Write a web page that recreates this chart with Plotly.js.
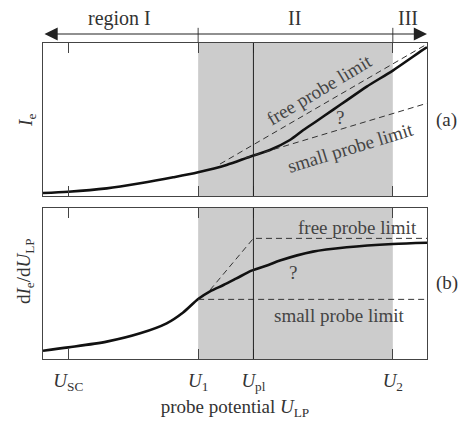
<!DOCTYPE html>
<html>
<head>
<meta charset="utf-8">
<script src="https://cdn.plot.ly/plotly-3.0.1.min.js"></script>
<style>html,body{margin:0;padding:0;background:#fff;}#chart{width:462px;height:428px;}</style>
</head>
<body>
<div id="chart"></div>
<script>
// potentials (abstract units along the probe-potential axis)
const U_SC = 0.66, U_1 = 4.04, U_pl = 5.48, U_2 = 9.11;
const tickVals = [U_SC, U_1, U_pl, U_2];
const tickLabels = ['<i>U</i><sub>SC</sub>', '<i>U</i><sub>1</sub>', '<i>U</i><sub>pl</sub>', '<i>U</i><sub>2</sub>'];

// panel (a): electron current
const xIe = [0, 0.66, 1.66, 2.53, 3.39, 4.04, 4.78, 5.39, 5.91, 6.43, 6.78, 7.13, 7.56, 7.91, 8.43, 9.11, 9.95, 10];
const yIe = [0.020, 0.028, 0.050, 0.083, 0.122, 0.155, 0.203, 0.257, 0.301, 0.366, 0.431, 0.490, 0.565, 0.625, 0.715, 0.820, 0.965, 0.972];
const xFreeA = [4.61, 10], yFreeA = [0.209, 0.993];
const xSmallA = [5.26, 10], ySmallA = [0.248, 0.606];

// panel (b): derivative dIe/dU
const xdI = [0, 0.66, 1.66, 2.53, 3.22, 3.65, 4.04, 4.35, 4.70, 5.04, 5.43, 5.87, 6.17, 7.03, 7.91, 9.11, 10];
const ydI = [0.055, 0.077, 0.115, 0.170, 0.236, 0.308, 0.397, 0.448, 0.490, 0.534, 0.585, 0.623, 0.652, 0.711, 0.740, 0.762, 0.770];
const xFreeB = [4.35, 5.48, 10], yFreeB = [0.457, 0.799, 0.799];
const xSmallB = [4.04, 10], ySmallB = [0.395, 0.395];

const serif = "'Liberation Serif', 'DejaVu Serif', serif";
const txt = '#333';
const curve = {color: '#111', width: 2.6, shape: 'spline', smoothing: 0.8};
const dash = {color: '#333', width: 1, dash: '6px,4px'};

const traces = [
  {x: xIe, y: yIe, xaxis: 'x', yaxis: 'y', mode: 'lines', line: curve, hoverinfo: 'skip'},
  {x: xFreeA, y: yFreeA, xaxis: 'x', yaxis: 'y', mode: 'lines', line: dash, hoverinfo: 'skip'},
  {x: xSmallA, y: ySmallA, xaxis: 'x', yaxis: 'y', mode: 'lines', line: dash, hoverinfo: 'skip'},
  {x: xdI, y: ydI, xaxis: 'x2', yaxis: 'y2', mode: 'lines', line: curve, hoverinfo: 'skip'},
  {x: xFreeB, y: yFreeB, xaxis: 'x2', yaxis: 'y2', mode: 'lines', line: dash, hoverinfo: 'skip'},
  {x: xSmallB, y: ySmallB, xaxis: 'x2', yaxis: 'y2', mode: 'lines', line: dash, hoverinfo: 'skip'}
];

const axCommon = {range: [0, 10], showgrid: false, zeroline: false, showline: true, linecolor: '#444', linewidth: 1,
  mirror: 'ticks', ticks: 'inside', ticklen: 10, tickcolor: '#444', tickvals: tickVals};
const yCommon = {range: [0, 1], showgrid: false, zeroline: false, showline: true, linecolor: '#444', linewidth: 1,
  mirror: true, ticks: '', showticklabels: false, fixedrange: true};

function note(o) {
  return Object.assign({showarrow: false, xanchor: 'center', yanchor: 'middle'}, o);
}

const layout = {
  width: 462, height: 428,
  margin: {l: 43, r: 35, t: 43, b: 69},
  paper_bgcolor: '#fff', plot_bgcolor: '#fff',
  showlegend: false,
  font: {family: serif, size: 19, color: txt},
  xaxis: Object.assign({}, axCommon, {anchor: 'y', showticklabels: false}),
  yaxis: Object.assign({}, yCommon, {domain: [0.5158, 1], anchor: 'x'}),
  xaxis2: Object.assign({}, axCommon, {anchor: 'y2', ticktext: tickLabels, showticklabels: true,
    ticklabelstandoff: 4,
    tickfont: {family: serif, size: 19, color: txt},
    title: {text: 'probe potential <i>U</i><sub>LP</sub>', font: {family: serif, size: 19, color: txt}, standoff: 6}}),
  yaxis2: Object.assign({}, yCommon, {domain: [0, 0.4778], anchor: 'x2'}),
  shapes: [
    {type: 'rect', xref: 'x', yref: 'y domain', x0: U_1, x1: U_2, y0: 0, y1: 1, fillcolor: '#cccccc', line: {width: 0}, layer: 'below'},
    {type: 'rect', xref: 'x2', yref: 'y2 domain', x0: U_1, x1: U_2, y0: 0, y1: 1, fillcolor: '#cccccc', line: {width: 0}, layer: 'below'},
    {type: 'line', xref: 'x', yref: 'y domain', x0: U_pl, x1: U_pl, y0: 0, y1: 1, line: {color: '#222', width: 1}},
    {type: 'line', xref: 'x2', yref: 'y2 domain', x0: U_pl, x1: U_pl, y0: 0, y1: 1, line: {color: '#222', width: 1}},
    {type: 'line', xref: 'x', yref: 'paper', x0: U_1, x1: U_1, y0: 1, y1: 1.048, line: {color: '#444', width: 1}},
    {type: 'line', xref: 'x', yref: 'paper', x0: U_2, x1: U_2, y0: 1, y1: 1.048, line: {color: '#444', width: 1}}
  ],
  annotations: [
    {x: 10, y: 1.0285, xref: 'x', yref: 'paper', ax: 0, axref: 'x', ay: 0, ayref: 'pixel', text: '', showarrow: true,
     arrowhead: 2, startarrowhead: 2, arrowside: 'end+start', arrowsize: 2.4, startarrowsize: 2.4, arrowwidth: 1.1, arrowcolor: '#222', standoff: 0, startstandoff: 0},
    note({x: 2.0, y: 1.079, xref: 'x', yref: 'paper', text: 'region I', font: {size: 20}}),
    note({x: 6.56, y: 1.079, xref: 'x', yref: 'paper', text: 'II', font: {size: 20}}),
    note({x: 9.5, y: 1.079, xref: 'x', yref: 'paper', text: 'III', font: {size: 20}}),
    note({x: -0.042, y: 0.7563, xref: 'paper', yref: 'paper', text: '<i>I</i><sub>e</sub>', textangle: -90}),
    note({x: -0.047, y: 0.278, xref: 'paper', yref: 'paper', text: 'd<i>I</i><sub>e</sub>/d<i>U</i><sub>LP</sub>', textangle: -90}),
    note({x: 1.052, y: 0.7563, xref: 'paper', yref: 'paper', text: '(a)'}),
    note({x: 1.052, y: 0.2394, xref: 'paper', yref: 'paper', text: '(b)'}),
    note({x: 7.21, y: 0.693, xref: 'x', yref: 'y', text: 'free probe limit', textangle: -31, font: {color: '#444'}}),
    note({x: 8.02, y: 0.32, xref: 'x', yref: 'y', text: 'small probe limit', textangle: -17, font: {color: '#444'}}),
    note({x: 7.73, y: 0.51, xref: 'x', yref: 'y', text: '?', font: {color: '#444'}}),
    note({x: 8.18, y: 0.874, xref: 'x2', yref: 'y2', text: 'free probe limit', font: {color: '#444'}}),
    note({x: 7.71, y: 0.291, xref: 'x2', yref: 'y2', text: 'small probe limit', font: {color: '#444'}}),
    note({x: 6.51, y: 0.576, xref: 'x2', yref: 'y2', text: '?', font: {color: '#444'}})
  ]
};

Plotly.newPlot('chart', traces, layout, {staticPlot: true, displayModeBar: false});
</script>
</body>
</html>
